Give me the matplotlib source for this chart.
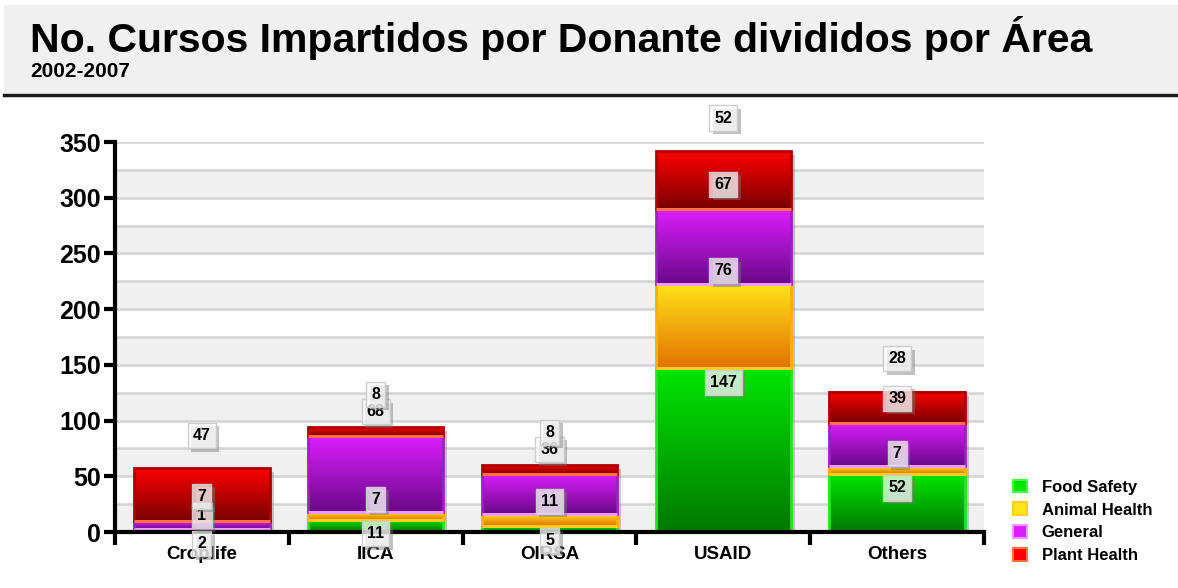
import numpy as np
import matplotlib
matplotlib.use("Agg")
import matplotlib.pyplot as plt
import matplotlib.patheffects as pe
from matplotlib.colors import LinearSegmentedColormap
from matplotlib.patches import Rectangle, Patch
from matplotlib.transforms import offset_copy

categories = ['Croplife', 'IICA', 'OIRSA', 'USAID', 'Others']
food_safety = [2, 11, 5, 147, 52]
animal_health = [1, 7, 11, 76, 7]
general = [7, 68, 36, 67, 39]
plant_health = [47, 8, 8, 52, 28]
series_names = ['Food Safety', 'Animal Health', 'General', 'Plant Health']

series = [food_safety, animal_health, general, plant_health]
# (bottom colour, top colour, edge, bottom highlight)
styles = [('#007800', '#00e600', '#22e622', '#44ff44'),
          ('#e27200', '#ffe41c', '#ffb000', '#ffcc22'),
          ('#6a0888', '#dc1eff', '#9a22c0', '#ee99ff'),
          ('#780000', '#ff0000', '#b00000', '#ff7040')]
# where the chart put the value boxes, relative to the top of each segment
label_shift = [-12.5, 11.5, 22, 29.5]

plt.rcParams['font.family'] = ['Liberation Sans', 'DejaVu Sans']
plt.rcParams['font.weight'] = 'bold'

fig = plt.figure(figsize=(11.78, 5.88), dpi=100)
fig.patches.append(Rectangle((0.003, 1 - 93 / 588), 0.997, 88 / 588,
                             transform=fig.transFigure, fc='#f0f0f0', ec='none', zorder=0))
fig.add_artist(plt.Line2D([0.003, 1], [1 - 94.5 / 588] * 2, transform=fig.transFigure,
                          color='#1a1a1a', lw=2.5))
fig.text(30 / 1178, 1 - 52 / 588, 'No. Cursos Impartidos por Donante divididos por Área',
         fontsize=29.5, fontweight='bold', va='baseline', ha='left')
fig.text(30 / 1178, 1 - 77 / 588, '2002-2007', fontsize=15, fontweight='bold',
         va='baseline', ha='left')

ax = fig.add_axes([115 / 1178, 1 - 532 / 588, (984 - 115) / 1178, (532 - 142) / 588])
x = np.arange(len(categories))
w = 0.78

# background bands and grid
for lo in range(0, 350, 50):
    ax.axhspan(lo, lo + 25, color='#f0f0f0', zorder=0, lw=0)
for g in range(25, 351, 25):
    ax.axhline(g, color='#d4d4d4', lw=1.8, zorder=1)

totals = np.sum(series, axis=0)
shadow_tr = offset_copy(ax.transData, fig=fig, x=4, y=-4, units='dots')
for xi, t in zip(x, totals):
    ax.add_patch(Rectangle((xi - w / 2, 0), w, t, transform=shadow_tr,
                           fc='#888888', alpha=0.45, ec='none', zorder=2))

bottoms = np.zeros(len(categories))
grad = np.linspace(0, 1, 128).reshape(-1, 1)
for vals, (c0, c1, ec, hl) in zip(series, styles):
    cmap = LinearSegmentedColormap.from_list('g', [c0, c1])
    for xi, v, b in zip(x, vals, bottoms):
        ax.imshow(grad, extent=[xi - w / 2, xi + w / 2, b, b + v], origin='lower',
                  cmap=cmap, aspect='auto', zorder=3, interpolation='bilinear')
        ax.add_patch(Rectangle((xi - w / 2, b), w, v, fc='none', ec=ec, lw=2, zorder=4))
        ax.plot([xi - w / 2, xi + w / 2], [b, b], color=hl, lw=2.2, zorder=4.5,
                solid_capstyle='butt')
    bottoms = bottoms + np.array(vals)

# value boxes
box_fx = [pe.SimplePatchShadow(offset=(2.5, -2.5), shadow_rgbFace='#777777', alpha=0.45),
          pe.Normal()]
bottoms = np.zeros(len(categories))
for vals, shift in zip(series, label_shift):
    tops = bottoms + np.array(vals)
    for xi, v, t in zip(x, vals, tops):
        txt = ax.text(xi, t + shift, str(v), ha='center', va='center', fontsize=11.5,
                      fontweight='bold', zorder=7, clip_on=False,
                      bbox=dict(boxstyle='square,pad=0.32', fc=(1, 1, 1, 0.72),
                                ec='#cccccc', lw=1))
        txt.get_bbox_patch().set_path_effects(box_fx)
    bottoms = tops

ax.set_xlim(-0.5, 4.5)
ax.set_ylim(0, 350)
ax.set_yticks(range(0, 351, 50))
ax.set_xticks(x)
ax.set_xticklabels(categories, fontsize=13.5, fontweight='bold')
ax.set_xticks(np.arange(-0.5, 4.6, 1), minor=True)
ax.tick_params(axis='x', which='major', length=0, pad=10)
ax.tick_params(axis='x', which='minor', length=9, width=3, direction='out')
ax.tick_params(axis='y', length=8, width=3, labelsize=18, pad=2)
for lab in ax.get_yticklabels():
    lab.set_fontweight('bold')
for s in ['top', 'right']:
    ax.spines[s].set_visible(False)
for s in ['left', 'bottom']:
    ax.spines[s].set_linewidth(3)
    ax.spines[s].set_zorder(5)
ax.set_facecolor('white')

handles = [Patch(fc=st[1], ec=st[3], lw=1.5) for st in styles]
fig.legend(handles, series_names, loc='lower left', bbox_to_anchor=(1005 / 1178, 0.028),
           frameon=False, handlelength=0.8, handleheight=0.8,
           handletextpad=0.9, labelspacing=0.46, borderpad=0,
           prop={'weight': 'bold', 'size': 12})

fig.savefig('out.png', dpi=100)
